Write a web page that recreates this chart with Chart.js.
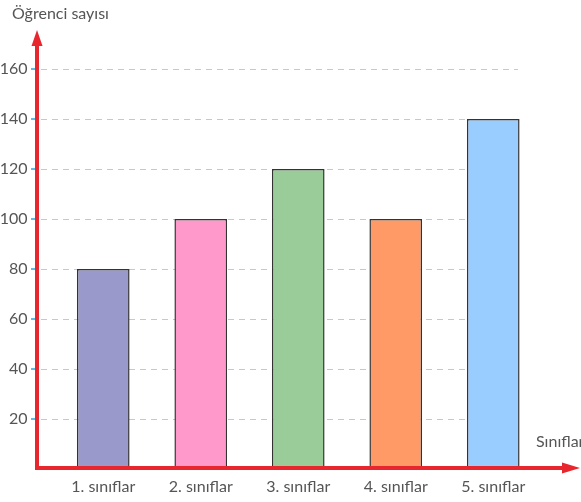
<!DOCTYPE html>
<html><head><meta charset="utf-8">
<script src="https://cdn.jsdelivr.net/npm/chart.js@4"></script>
<style>html,body{margin:0;padding:0;background:#fff;}#wrap{width:581px;height:502px;position:relative;}</style>
</head><body><div id="wrap"><canvas id="c"></canvas></div>
<script>
const categories = ["1. sınıflar","2. sınıflar","3. sınıflar","4. sınıflar","5. sınıflar"];
const values = [80,100,120,100,140];
const barColors = ["#9999cc","#ff99cc","#99cc99","#ff9966","#99ccff"];
const yTicks = [20,40,60,80,100,120,140,160];
const yTitle = "Öğrenci sayısı";
const xTitle = "Sınıflar";

const RED = "#e8262d";
const FONT = "Lato, sans-serif";

const axesPlugin = {
  id: 'axesPlugin',
  beforeDatasetsDraw(chart){
    const ctx = chart.ctx, y = chart.scales.y;
    ctx.save();
    ctx.strokeStyle = '#c8c8c8'; ctx.lineWidth = 1; ctx.setLineDash([6,5]);
    yTicks.forEach(v=>{
      const py = Math.round(y.getPixelForValue(v))+0.5;
      ctx.beginPath(); ctx.moveTo(41,py); ctx.lineTo(518,py); ctx.stroke();
    });
    ctx.setLineDash([]);
    ctx.strokeStyle = '#2aa7e0'; ctx.lineWidth = 1.5;
    yTicks.forEach(v=>{
      const py = y.getPixelForValue(v);
      ctx.beginPath(); ctx.moveTo(31,py); ctx.lineTo(35,py); ctx.stroke();
    });
    ctx.restore();
  },
  afterDraw(chart){
    const ctx = chart.ctx, y = chart.scales.y;
    const y0 = y.getPixelForValue(0) - 1;
    ctx.save();
    ctx.strokeStyle = RED; ctx.fillStyle = RED; ctx.lineWidth = 4;
    ctx.beginPath(); ctx.moveTo(37, y0+2); ctx.lineTo(37, 44); ctx.stroke();
    ctx.beginPath(); ctx.moveTo(37,30); ctx.lineTo(31.5,46); ctx.lineTo(42.5,46); ctx.closePath(); ctx.fill();
    ctx.beginPath(); ctx.moveTo(35, y0); ctx.lineTo(566, y0); ctx.stroke();
    ctx.beginPath(); ctx.moveTo(580,y0); ctx.lineTo(562,y0-5.5); ctx.lineTo(562,y0+5.5); ctx.closePath(); ctx.fill();
    ctx.fillStyle = '#555'; ctx.font = "16px " + FONT; ctx.textBaseline = 'middle';
    ctx.textAlign = 'left';
    ctx.fillText(yTitle, 12, 14);
    ctx.fillText(xTitle, 536, 442);
    ctx.restore();
  }
};

new Chart(document.getElementById('c'), {
  type: 'bar',
  data: { labels: categories, datasets: [{ data: values, backgroundColor: barColors, borderColor: '#333', borderWidth: 1.5, borderSkipped: false, barPercentage: 0.54, categoryPercentage: 1 }] },
  options: {
    responsive: true, maintainAspectRatio: false, animation: false,
    layout: { padding: { top: 69, right: 39, left: 0, bottom: 0 } },
    plugins: { legend: { display: false }, tooltip: { enabled: false } },
    scales: {
      x: { grid: { display: false, drawTicks: false }, border: { display: false },
           ticks: { color: '#555', font: { family: FONT, size: 16 }, padding: 8, maxRotation: 0 },
           afterFit: s => { s.height = 33; s.paddingLeft = 0; s.paddingRight = 0; } },
      y: { min: 0, max: 160, afterBuildTicks: s => { s.ticks = yTicks.map(v => ({ value: v })); },
           grid: { display: false, drawTicks: false }, border: { display: false },
           ticks: { color: '#555', font: { family: FONT, size: 16 }, padding: 27 },
           afterFit: s => { s.width = 54.5; s.paddingTop = 0; s.paddingBottom = 0; } }
    }
  },
  plugins: [axesPlugin]
});
</script></body></html>
